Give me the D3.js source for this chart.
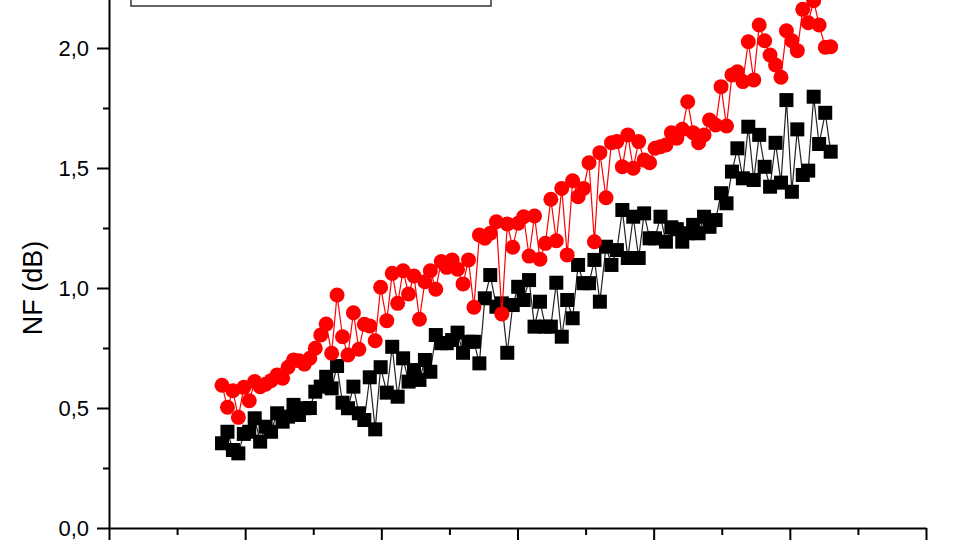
<!DOCTYPE html>
<html>
<head>
<meta charset="utf-8">
<script src="https://cdn.jsdelivr.net/npm/d3@7"></script>
<style>
  html, body { margin: 0; padding: 0; background: #fff; }
  svg { display: block; font-family: "Liberation Sans", Arial, sans-serif; }
</style>
</head>
<body>
<svg id="chart" width="960" height="540"></svg>
<script>
// ---- data ----
const freq = [1.66,1.74,1.82,1.90,1.98,2.06,2.14,2.22,2.30,2.38,2.47,2.55,2.63,2.71,2.79,2.87,2.95,3.03,3.11,3.19,
  3.27,3.35,3.43,3.51,3.59,3.67,3.75,3.83,3.91,3.99,4.08,4.16,4.24,4.32,4.40,4.48,4.56,4.64,4.72,4.80,
  4.88,4.96,5.04,5.12,5.20,5.28,5.36,5.44,5.52,5.60,5.69,5.77,5.85,5.93,6.01,6.09,6.17,6.25,6.33,6.41,
  6.49,6.57,6.65,6.73,6.81,6.89,6.97,7.05,7.13,7.21,7.30,7.38,7.46,7.54,7.62,7.70,7.78,7.86,7.94,8.02,
  8.10,8.18,8.26,8.34,8.42,8.50,8.58,8.66,8.74,8.82,8.91,8.99,9.07,9.15,9.23,9.31,9.39,9.47,9.55,9.63,
  9.71,9.79,9.87,9.95,10.03,10.11,10.19,10.27,10.35,10.43,10.52,10.60];

const nfBlack = [0.353,0.401,0.325,0.311,0.392,0.401,0.457,0.360,0.422,0.401,0.478,0.443,0.464,0.513,0.471,0.499,0.500,0.568,0.589,0.630,
  0.582,0.675,0.522,0.499,0.589,0.478,0.450,0.628,0.411,0.670,0.564,0.755,0.547,0.707,0.610,0.658,0.617,0.700,0.651,0.804,
  0.770,0.770,0.783,0.814,0.730,0.776,0.776,0.686,0.957,1.054,0.922,0.936,0.730,0.929,1.005,0.950,1.033,0.839,0.943,0.839,
  0.839,1.022,0.797,0.950,0.874,1.096,1.020,1.020,1.117,0.943,1.172,1.096,1.158,1.325,1.125,1.297,1.125,1.311,1.207,1.207,
  1.297,1.193,1.253,1.245,1.193,1.228,1.263,1.228,1.297,1.255,1.283,1.395,1.353,1.485,1.582,1.457,1.672,1.450,1.638,1.505,
  1.422,1.605,1.439,1.783,1.401,1.661,1.471,1.489,1.797,1.600,1.730,1.568];

const nfRed = [0.595,0.503,0.572,0.461,0.586,0.530,0.610,0.589,0.599,0.614,0.638,0.624,0.670,0.700,0.697,0.683,0.707,0.749,0.804,0.850,
  0.728,0.971,0.797,0.721,0.897,0.745,0.849,0.842,0.780,1.003,0.864,1.061,0.936,1.072,0.975,1.050,0.870,1.026,1.072,0.995,
  1.110,1.086,1.117,1.078,1.017,1.117,0.920,1.221,1.207,1.228,1.276,0.892,1.267,1.170,1.270,1.297,1.133,1.300,1.120,1.186,
  1.370,1.197,1.415,1.138,1.447,1.380,1.415,1.522,1.193,1.564,1.376,1.605,1.610,1.505,1.638,1.499,1.610,1.533,1.522,1.582,
  1.589,1.596,1.647,1.624,1.661,1.776,1.647,1.605,1.638,1.700,1.679,1.839,1.675,1.888,1.901,1.860,2.026,1.867,2.096,2.030,
  1.971,1.929,1.878,2.072,2.030,1.989,2.161,2.105,2.197,2.096,2.003,2.005];

const yMajorTicks = [0, 0.5, 1.0, 1.5, 2.0];
const yMinorTicks = [0.25, 0.75, 1.25, 1.75, 2.25];
const xMajorTicks = [0, 2, 4, 6, 8, 10, 12];
const xMinorTicks = [1, 3, 5, 7, 9, 11];
const yTitle = "NF (dB)";

// ---- drawing ----
const svg = d3.select("#chart");
const x = d3.scaleLinear().domain([0, 12]).range([109, 926]);
const y = d3.scaleLinear().domain([0, 2.4]).range([528, -48]);

const fmt = d => d.toFixed(1).replace(".", ",");

// legend box (only its lower edge is visible)
svg.append("rect")
  .attr("x", 131).attr("y", -60).attr("width", 360).attr("height", 66)
  .attr("fill", "#fff").attr("stroke", "#333").attr("stroke-width", 1.5);

// y axis
const yAxis = svg.append("g").attr("transform", "translate(109,0)")
  .call(d3.axisLeft(y).tickValues(yMajorTicks).tickSize(12).tickPadding(8).tickSizeOuter(0).tickFormat(fmt));
svg.append("g").attr("transform", "translate(109,0)")
  .call(d3.axisLeft(y).tickValues(yMinorTicks).tickSize(6).tickSizeOuter(0).tickFormat(""))
  .select(".domain").remove();
yAxis.selectAll("text").attr("font-size", 22).attr("fill", "#000")
  .attr("font-family", "'Liberation Sans', Arial, sans-serif");

// x axis
const xAxis = svg.append("g").attr("transform", "translate(0,528)")
  .call(d3.axisBottom(x).tickValues(xMajorTicks).tickSize(12).tickSizeOuter(0).tickFormat(""));
svg.append("g").attr("transform", "translate(0,528)")
  .call(d3.axisBottom(x).tickValues(xMinorTicks).tickSize(7).tickSizeOuter(0).tickFormat(""))
  .select(".domain").remove();

svg.selectAll(".domain").attr("stroke", "#000").attr("stroke-width", 2);
svg.selectAll(".tick line").attr("stroke", "#000").attr("stroke-width", 2);

// y title
svg.append("text")
  .attr("transform", "translate(42,288) rotate(-90)")
  .attr("text-anchor", "middle")
  .attr("font-size", 27)
  .attr("fill", "#000")
  .text(yTitle);

const line = d3.line().x((d, i) => x(freq[i])).y(d => y(d));

// black series
svg.append("path").datum(nfBlack)
  .attr("d", line).attr("fill", "none").attr("stroke", "#222").attr("stroke-width", 1.2);
svg.append("g").selectAll("rect").data(nfBlack).join("rect")
  .attr("x", (d, i) => x(freq[i]) - 7)
  .attr("y", d => y(d) - 7)
  .attr("width", 14).attr("height", 14)
  .attr("fill", "#000");

// red series
svg.append("path").datum(nfRed)
  .attr("d", line).attr("fill", "none").attr("stroke", "#ff0000").attr("stroke-width", 1.2);
svg.append("g").selectAll("circle").data(nfRed).join("circle")
  .attr("cx", (d, i) => x(freq[i]))
  .attr("cy", d => y(d))
  .attr("r", 7.5)
  .attr("fill", "#ff0000");
</script>
</body>
</html>
